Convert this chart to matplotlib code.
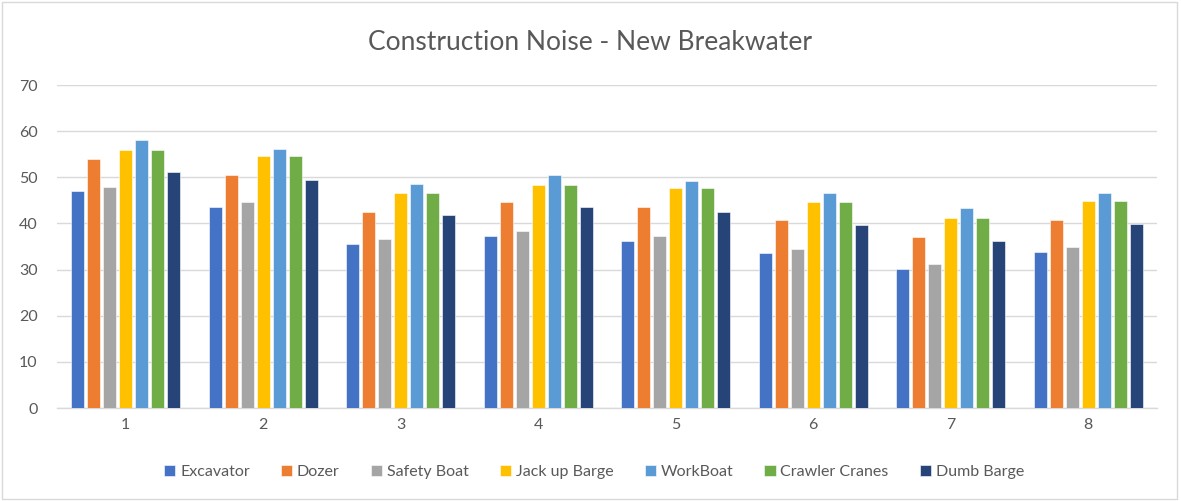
import matplotlib
matplotlib.use("Agg")
import matplotlib.pyplot as plt
import numpy as np
from matplotlib.patches import Rectangle

categories = ["1", "2", "3", "4", "5", "6", "7", "8"]
excavator = [47.0, 43.5, 35.6, 37.3, 36.3, 33.5, 30.1, 33.9]
dozer = [54.0, 50.4, 42.5, 44.6, 43.6, 40.7, 37.0, 40.7]
safety_boat = [48.0, 44.6, 36.6, 38.4, 37.3, 34.5, 31.2, 34.9]
jack_up_barge = [56.0, 54.6, 46.6, 48.3, 47.7, 44.6, 41.2, 44.9]
workboat = [58.0, 56.2, 48.6, 50.4, 49.3, 46.6, 43.3, 46.6]
crawler_cranes = [56.0, 54.6, 46.6, 48.3, 47.7, 44.6, 41.2, 44.9]
dumb_barge = [51.1, 49.4, 41.8, 43.6, 42.5, 39.7, 36.3, 39.8]

series_names = ["Excavator", "Dozer", "Safety Boat", "Jack up Barge",
                "WorkBoat", "Crawler Cranes", "Dumb Barge"]
series_values = [excavator, dozer, safety_boat, jack_up_barge,
                 workboat, crawler_cranes, dumb_barge]
colors = ["#4472C4", "#ED7D31", "#A5A5A5", "#FFC000",
          "#5B9BD5", "#70AD47", "#264478"]

plt.rcParams['font.family'] = ['Lato', 'DejaVu Sans']
text_color = "#595959"

fig = plt.figure(figsize=(11.81, 5.01), dpi=100)
ax = fig.add_axes([0.0483, 0.1856, 0.9314, 0.6447])

x = np.arange(len(categories))
pitch = 0.1164
width = 0.092
n = len(series_names)
for i, (name, vals, c) in enumerate(zip(series_names, series_values, colors)):
    offs = (i - (n - 1) / 2) * pitch
    ax.bar(x + offs, vals, width=width, color=c, label=name, zorder=3,
           edgecolor="white", linewidth=0.4)

ax.set_xlim(-0.5, len(categories) - 0.5)
ax.set_ylim(0, 70)
ax.set_yticks(range(0, 71, 10))
ax.set_xticks(x)
ax.set_xticklabels(categories)
ax.grid(axis="y", color="#D9D9D9", linewidth=1.0, zorder=0)
ax.set_axisbelow(True)
for s in ["top", "right", "left"]:
    ax.spines[s].set_visible(False)
ax.spines["bottom"].set_color("#D9D9D9")
ax.spines["bottom"].set_linewidth(1.0)
ax.tick_params(axis="both", length=0, labelsize=11.5, colors=text_color)
ax.tick_params(axis="y", pad=14)
ax.tick_params(axis="x", pad=7)

fig.text(0.5, 0.915, "Construction Noise - New Breakwater", ha="center",
         va="center", fontsize=19, color=text_color)

leg = fig.legend(loc="center", bbox_to_anchor=(0.503, 0.058), ncol=7,
                 frameon=False, fontsize=11.5, handlelength=0.7,
                 handleheight=0.7, handletextpad=0.3, columnspacing=1.95)
for t in leg.get_texts():
    t.set_color(text_color)

fig.patches.append(Rectangle((0.002, 0.004), 0.995, 0.992,
                             transform=fig.transFigure, fill=False,
                             edgecolor="#D9D9D9", linewidth=1.0))

fig.savefig("out.png", dpi=100, facecolor="white")
